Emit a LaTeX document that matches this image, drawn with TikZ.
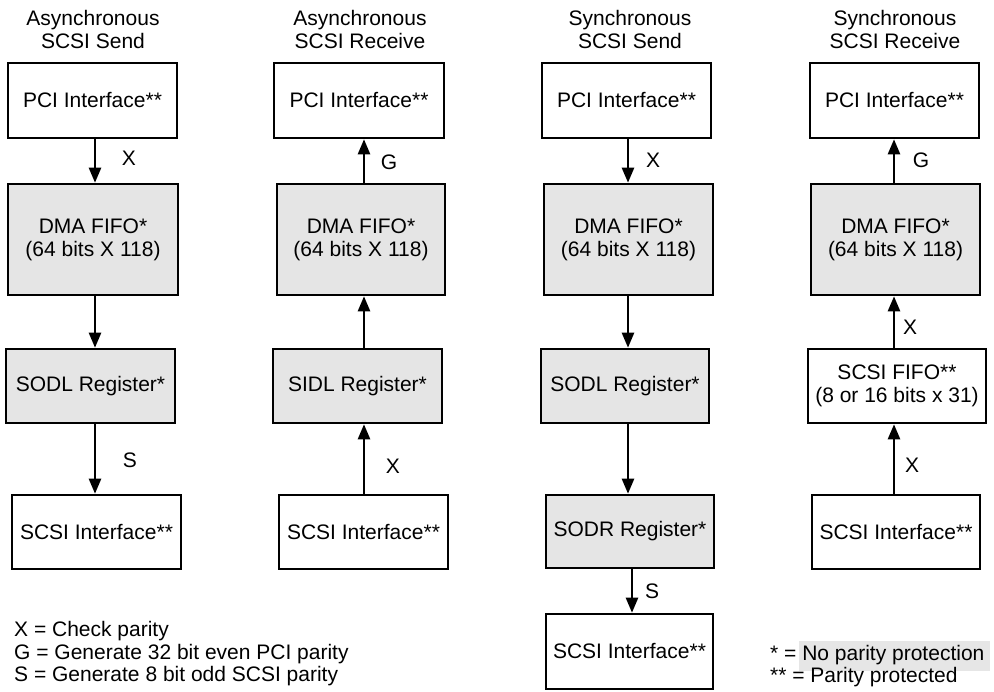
\documentclass[tikz,border=0pt]{standalone}
\usepackage{fontspec}
\setmainfont{Liberation Sans}
\usetikzlibrary{arrows.meta}
\definecolor{boxgray}{HTML}{E5E5E5}
\definecolor{hlgray}{HTML}{E6E6E6}
\newcommand{\fsz}{\fontsize{21}{23}\selectfont}
\tikzset{
  box/.style={draw, line width=2.6pt, minimum width=169pt, minimum height=75pt, inner sep=0pt, align=center, font=\fsz},
  shaded/.style={box, fill=boxgray},
  arr/.style={line width=2.4pt, -{Triangle[length=15pt,width=12pt]}},
  lbl/.style={font=\fsz, inner sep=0pt},
  ttl/.style={font=\fsz, inner sep=0pt, align=center},
  leg/.style={font=\fsz, inner sep=0pt, anchor=base west}
}
\begin{document}
\begin{tikzpicture}[x=1pt,y=-1pt]
\useasboundingbox (0,0) rectangle (994,692);

% titles
\node[ttl] (t1) at (93,29.5) {Asynchronous\\SCSI Send};
\node[ttl] (t2) at (360,29.5) {Asynchronous\\SCSI Receive};
\node[ttl] (t3) at (630,29.5) {Synchronous\\SCSI Send};
\node[ttl] (t4) at (895,29.5) {Synchronous\\SCSI Receive};

% column 1
\node[box] (pci1) at (92.5,100.5) {PCI Interface**};
\node[shaded, minimum width=170pt, minimum height=111pt] (dma1) at (93,239.5) {DMA FIFO*\\(64 bits X 118)};
\node[shaded, minimum height=74pt] (sodl1) at (90.5,386) {SODL Register*};
\node[box, minimum height=74pt] (scsi1) at (96.5,532) {SCSI Interface**};

% column 2
\node[box, minimum width=170pt] (pci2) at (359,100.5) {PCI Interface**};
\node[shaded, minimum width=168pt, minimum height=111pt] (dma2) at (361,239.5) {DMA FIFO*\\(64 bits X 118)};
\node[shaded, minimum height=74pt] (sidl2) at (357.5,386) {SIDL Register*};
\node[box, minimum height=74pt] (scsi2) at (363.5,532) {SCSI Interface**};

% column 3
\node[box] (pci3) at (626.5,100.5) {PCI Interface**};
\node[shaded, minimum height=111pt] (dma3) at (628.5,239.5) {DMA FIFO*\\(64 bits X 118)};
\node[shaded, minimum width=168pt, minimum height=74pt] (sodl3) at (625,386) {SODL Register*};
\node[shaded, minimum width=168pt, minimum height=73pt] (sodr3) at (630,531.5) {SODR Register*};
\node[box, minimum width=167pt] (scsi3) at (629.5,651.5) {SCSI Interface**};

% column 4
\node[box] (pci4) at (894.5,100.5) {PCI Interface**};
\node[shaded, minimum height=111pt] (dma4) at (895.5,239.5) {DMA FIFO*\\(64 bits X 118)};
\node[box, minimum width=178pt, minimum height=74pt] (fifo4) at (897,386) {SCSI FIFO**\\(8 or 16 bits x 31)};
\node[box, minimum width=168pt, minimum height=74pt] (scsi4) at (896,532) {SCSI Interface**};

% arrow x positions
\coordinate (c1) at (95,0);
\coordinate (c2) at (364,0);
\coordinate (c3) at (628,0);
\coordinate (c3b) at (632,0);
\coordinate (c4) at (894,0);

% connectors column 1 (down)
\draw[arr] (pci1.south -| c1) -- (dma1.north -| c1);
\draw[arr] (dma1.south -| c1) -- (sodl1.north -| c1);
\draw[arr] (sodl1.south -| c1) -- (scsi1.north -| c1);
% column 2 (up)
\draw[arr] (dma2.north -| c2) -- (pci2.south -| c2);
\draw[arr] (sidl2.north -| c2) -- (dma2.south -| c2);
\draw[arr] (scsi2.north -| c2) -- (sidl2.south -| c2);
% column 3 (down)
\draw[arr] (pci3.south -| c3) -- (dma3.north -| c3);
\draw[arr] (dma3.south -| c3) -- (sodl3.north -| c3);
\draw[arr] (sodl3.south -| c3) -- (sodr3.north -| c3);
\draw[arr] (sodr3.south -| c3b) -- (scsi3.north -| c3b);
% column 4 (up)
\draw[arr] (dma4.north -| c4) -- (pci4.south -| c4);
\draw[arr] (fifo4.north -| c4) -- (dma4.south -| c4);
\draw[arr] (scsi4.north -| c4) -- (fifo4.south -| c4);

% connector labels
\node[lbl] (l1a) at (129,158) {X};
\node[lbl] (l1b) at (130,460) {S};
\node[lbl] (l2a) at (389,162) {G};
\node[lbl] (l2b) at (393,466) {X};
\node[lbl] (l3a) at (653,160) {X};
\node[lbl] (l3b) at (652,591) {S};
\node[lbl] (l4a) at (921,160) {G};
\node[lbl] (l4b) at (910,327) {X};
\node[lbl] (l4c) at (912,465) {X};

% legend left
\node[leg] (k1) at (14,636) {X = Check parity};
\node[leg] (k2) at (14,659) {G = Generate 32 bit even PCI parity};
\node[leg] (k3) at (14,681) {S = Generate 8 bit odd SCSI parity};

% legend right
\fill[hlgray] (799,641) rectangle (990,671);
\node[leg] (k4) at (770,660) {* = No parity protection};
\node[leg] (k5) at (770,682) {** = Parity protected};
\end{tikzpicture}
\end{document}
